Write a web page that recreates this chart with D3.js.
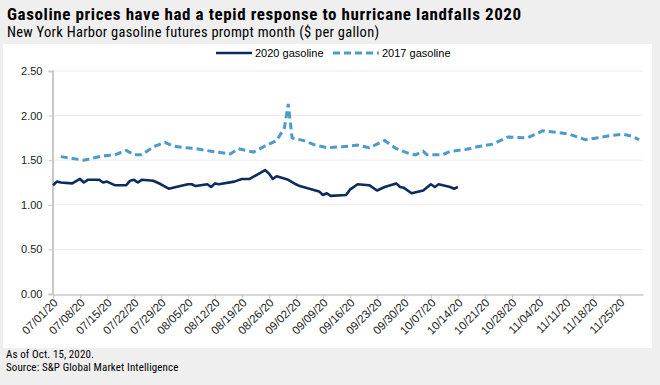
<!DOCTYPE html>
<html><head><meta charset="utf-8">
<script src="https://cdn.jsdelivr.net/npm/d3@7"></script>
<style>
html,body{margin:0;padding:0;background:#efefef;}
svg{display:block;}
text{font-family:"Liberation Sans","Arimo",Arial,sans-serif;}
.narrow{font-family:"Liberation Sans Narrow","Roboto Condensed","Arial Narrow",Roboto,sans-serif;}
</style></head>
<body>
<svg id="chart" width="660" height="385"></svg>
<script>
const title = "Gasoline prices have had a tepid response to hurricane landfalls 2020";
const subtitle = "New York Harbor gasoline futures prompt month ($ per gallon)";
const footnotes = ["As of Oct. 15, 2020.", "Source: S&P Global Market Intelligence"];
const seriesNames = ["2020 gasoline", "2017 gasoline"];

// 2020 series (date, $/gal)
const dates2020 = ["07/01/20","07/02/20","07/03/20","07/06/20","07/08/20","07/09/20","07/10/20","07/13/20","07/14/20","07/15/20","07/17/20","07/20/20","07/21/20","07/22/20","07/23/20","07/24/20","07/27/20","07/29/20","07/31/20","08/03/20","08/05/20","08/06/20","08/07/20","08/10/20","08/11/20","08/12/20","08/13/20","08/17/20","08/19/20","08/21/20","08/25/20","08/26/20","08/27/20","08/28/20","08/31/20","09/02/20","09/03/20","09/08/20","09/09/20","09/10/20","09/11/20","09/15/20","09/16/20","09/18/20","09/21/20","09/23/20","09/25/20","09/28/20","09/29/20","09/30/20","10/02/20","10/05/20","10/07/20","10/08/20","10/09/20","10/12/20","10/13/20","10/14/20"];
const values2020 = [1.22,1.26,1.25,1.24,1.29,1.25,1.28,1.28,1.25,1.26,1.22,1.22,1.27,1.28,1.25,1.28,1.27,1.23,1.18,1.21,1.23,1.23,1.21,1.23,1.20,1.24,1.23,1.26,1.29,1.29,1.39,1.35,1.29,1.32,1.28,1.23,1.21,1.15,1.11,1.13,1.10,1.11,1.17,1.23,1.22,1.16,1.20,1.24,1.20,1.19,1.13,1.16,1.23,1.20,1.23,1.20,1.18,1.20];

// 2017 series, plotted on the same calendar days
const dates2017 = ["07/03/20","07/06/20","07/09/20","07/11/20","07/14/20","07/17/20","07/20/20","07/22/20","07/24/20","07/27/20","07/30/20","08/01/20","08/04/20","08/07/20","08/11/20","08/13/20","08/16/20","08/18/20","08/21/20","08/22/20","08/25/20","08/28/20","08/30/20","08/31/20","09/01/20","09/04/20","09/07/20","09/10/20","09/14/20","09/18/20","09/21/20","09/25/20","09/28/20","10/01/20","10/03/20","10/05/20","10/06/20","10/10/20","10/12/20","10/16/20","10/19/20","10/23/20","10/27/20","11/01/20","11/05/20","11/09/20","11/12/20","11/16/20","11/19/20","11/23/20","11/26/20","11/28/20","11/30/20"];
const values2017 = [1.54,1.52,1.50,1.52,1.55,1.56,1.61,1.56,1.56,1.65,1.70,1.66,1.64,1.63,1.60,1.59,1.57,1.63,1.60,1.59,1.66,1.72,1.86,2.13,1.75,1.72,1.67,1.64,1.65,1.67,1.64,1.72,1.63,1.58,1.56,1.60,1.56,1.56,1.60,1.62,1.65,1.68,1.76,1.75,1.83,1.81,1.79,1.73,1.75,1.78,1.79,1.77,1.73];

const xTickLabels = ["07/01/20","07/08/20","07/15/20","07/22/20","07/29/20","08/05/20","08/12/20","08/19/20","08/26/20","09/02/20","09/09/20","09/16/20","09/23/20","09/30/20","10/07/20","10/14/20","10/21/20","10/28/20","11/04/20","11/11/20","11/18/20","11/25/20"];
const yTickValues = [0, 0.5, 1.0, 1.5, 2.0, 2.5];
const xDomainLabels = ["07/01/20","12/01/20"];

const parse = d3.timeParse("%m/%d/%y");
const svg = d3.select("#chart");

// panel
svg.append("rect").attr("x",3).attr("y",44).attr("width",649).attr("height",304).attr("fill","#ffffff");

svg.append("text").attr("class","narrow").attr("x",7).attr("y",20).attr("font-size",17).attr("font-weight","bold")
  .attr("letter-spacing",0.6).attr("fill","#000").text(title);
svg.append("text").attr("class","narrow").attr("x",7).attr("y",37).attr("font-size",14.5)
  .attr("letter-spacing",0.27).attr("fill","#000").text(subtitle);
footnotes.forEach((t,i)=>svg.append("text").attr("class","narrow").attr("x",6).attr("y",358+i*13)
  .attr("font-size",11).attr("letter-spacing",0.1).attr("fill","#000").text(t));

const x = d3.scaleTime().domain(xDomainLabels.map(parse)).range([53,643]);
const y = d3.scaleLinear().domain([0,2.5]).range([294,71]);

// gridlines
svg.append("g").selectAll("line").data(yTickValues.filter(v=>v>0)).join("line")
  .attr("x1",53).attr("x2",643).attr("y1",d=>y(d)).attr("y2",d=>y(d))
  .attr("stroke","#ececec").attr("stroke-width",1);

// y axis
const yAxis = svg.append("g").attr("transform","translate(52.5,0)")
  .call(d3.axisLeft(y).tickValues(yTickValues).tickFormat(d3.format(".2f")).tickSize(4).tickPadding(6));
yAxis.select(".domain").attr("stroke","#c8c8c8").attr("stroke-width",2);
yAxis.selectAll(".tick line").attr("stroke","#c8c8c8");
yAxis.selectAll("text").attr("font-size",11).attr("fill","#222");

// x axis
const xAxis = svg.append("g").attr("transform","translate(0,294.5)")
  .call(d3.axisBottom(x).tickValues(xTickLabels.map(parse)).tickFormat(d3.timeFormat("%m/%d/%y")).tickSizeInner(4).tickSizeOuter(0));
xAxis.select(".domain").attr("stroke","#c8c8c8").attr("stroke-width",1.5);
xAxis.selectAll(".tick line").attr("stroke","#c8c8c8");
xAxis.selectAll("text").attr("font-size",11.5).attr("fill","#222")
  .attr("text-anchor","end").attr("dy",0).attr("y",0)
  .attr("transform","translate(5,9) rotate(-45)");

const line = d3.line().x(d=>x(d[0])).y(d=>y(d[1]));
const s2017 = dates2017.map((d,i)=>[parse(d),values2017[i]]);
const s2020 = dates2020.map((d,i)=>[parse(d),values2020[i]]);

svg.append("path").datum(s2017).attr("d",line).attr("fill","none")
  .attr("stroke","#4d9bc9").attr("stroke-width",3).attr("stroke-dasharray","7,4");
svg.append("path").datum(s2020).attr("d",line).attr("fill","none")
  .attr("stroke","#0b2c5c").attr("stroke-width",2.6).attr("stroke-linejoin","round");

// legend
const lg = svg.append("g");
lg.append("line").attr("x1",216).attr("x2",252).attr("y1",53).attr("y2",53).attr("stroke","#0b2c5c").attr("stroke-width",2.6);
lg.append("text").attr("x",255).attr("y",57).attr("font-size",11).attr("fill","#000").text(seriesNames[0]);
lg.append("line").attr("x1",333).attr("x2",379).attr("y1",53).attr("y2",53).attr("stroke","#4d9bc9").attr("stroke-width",3).attr("stroke-dasharray","7,4");
lg.append("text").attr("x",382).attr("y",57).attr("font-size",11).attr("fill","#000").text(seriesNames[1]);
</script>
</body></html>
